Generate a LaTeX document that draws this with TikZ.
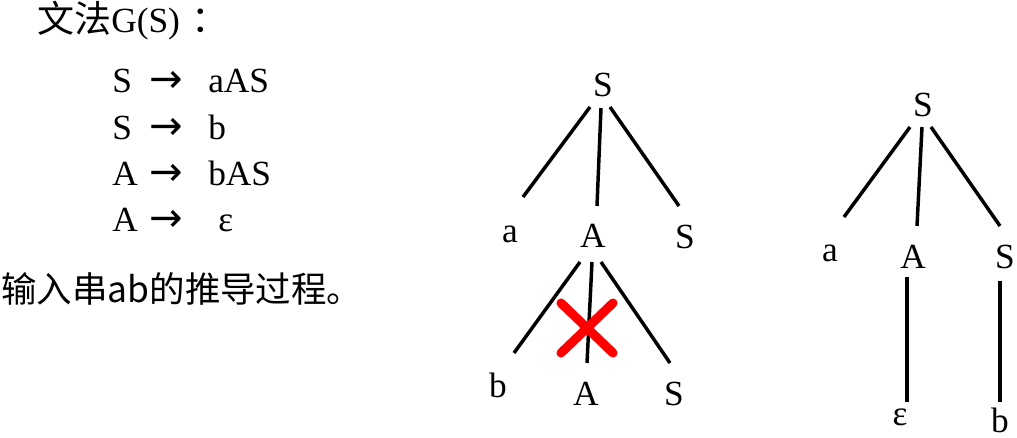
\documentclass[tikz,border=0pt]{standalone}
\usepackage{fontspec}
\setmainfont{Liberation Serif}
\newfontfamily\cjk{Noto Sans CJK SC}
\newfontfamily\arrowfont{DejaVu Sans}
\usetikzlibrary{calc}
\newcommand{\rarr}{{\arrowfont\fontsize{30}{30}\selectfont →}}
\begin{document}
\begin{tikzpicture}[x=0.75pt,y=-0.75pt,
 lbl/.style={inner sep=0pt, anchor=base, font=\fontsize{26.5}{30}\selectfont},
 txt/.style={inner sep=0pt, anchor=base west, font=\fontsize{26.5}{30}\selectfont},
 edge/.style={line width=2.6pt},
 cross/.style={draw=red, line width=6.8pt, line cap=round}]
\useasboundingbox (0,0) rectangle (1017,438);
% left text
\node[txt] (title) at (37,33) {{\cjk\fontsize{27.75}{30}\selectfont 文法}G(S)\hspace{9pt}{\cjk\fontsize{27.75}{30}\selectfont ：}};
\node[txt] (r1l) at (112,93) {S};
\node[txt] (r1a) at (149,93) {\rarr};
\node[txt] (r1r) at (208,93) {aAS};
\node[txt] (r2l) at (112,139.5) {S};
\node[txt] (r2a) at (149,139.5) {\rarr};
\node[txt] (r2r) at (208,139.5) {b};
\node[txt] (r3l) at (112,186) {A};
\node[txt] (r3a) at (149,186) {\rarr};
\node[txt] (r3r) at (208,186) {bAS};
\node[txt] (r4l) at (112,232) {A};
\node[txt] (r4a) at (149,232) {\rarr};
\node[txt] (r4r) at (218,232) {ε};
\node[txt, font=\cjk\fontsize{26.6}{30}\selectfont] (inp) at (1,302) {输入串ab的推导过程。};
% tree 1
\node[lbl] (S1) at (603,97) {S};
\node[lbl] (a1) at (510,243) {a};
\node[lbl] (A1) at (593,248) {A};
\node[lbl] (S2) at (685,249) {S};
\node[lbl] (b1) at (498,397) {b};
\node[lbl] (A2) at (586,405) {A};
\node[lbl] (S3) at (674,405) {S};
\draw[edge] ($(S1.base)+(-13,10)$) -- ($(a1.base)+(13,-46)$);
\draw[edge] ($(S1.base)+(-2,11)$) -- ($(A1.base)+(4,-42)$);
\draw[edge] ($(S1.base)+(7,10)$) -- ($(S2.base)+(-6,-43)$);
\draw[edge] ($(A1.base)+(-13,14)$) -- ($(b1.base)+(16,-44)$);
\draw[edge] ($(A1.base)+(-1,14)$) -- ($(A2.base)+(1,-42)$);
\draw[edge] ($(A1.base)+(8,14)$) -- ($(S3.base)+(-4,-42)$);
\draw[cross] ($(A2.base)+(-25,-102)$) -- ($(A2.base)+(27,-52)$);
\draw[cross] ($(A2.base)+(27,-102)$) -- ($(A2.base)+(-25,-52)$);
% tree 2
\node[lbl] (T) at (923,117) {S};
\node[lbl] (a2) at (830,262) {a};
\node[lbl] (A3) at (913,268) {A};
\node[lbl] (S4) at (1005,269) {S};
\node[lbl] (e1) at (900,425) {ε};
\node[lbl] (b2) at (1000,432) {b};
\draw[edge] ($(T.base)+(-13,10)$) -- ($(a2.base)+(14,-45)$);
\draw[edge] ($(T.base)+(-1,10)$) -- ($(A3.base)+(4,-42)$);
\draw[edge] ($(T.base)+(8,10)$) -- ($(S4.base)+(-5,-43)$);
\draw[edge] ($(A3.base)+(-6,9)$) -- ($(e1.base)+(7,-23)$);
\draw[edge] ($(S4.base)+(-5,12)$) -- ($(b2.base)+(0,-30)$);
\end{tikzpicture}
\end{document}
